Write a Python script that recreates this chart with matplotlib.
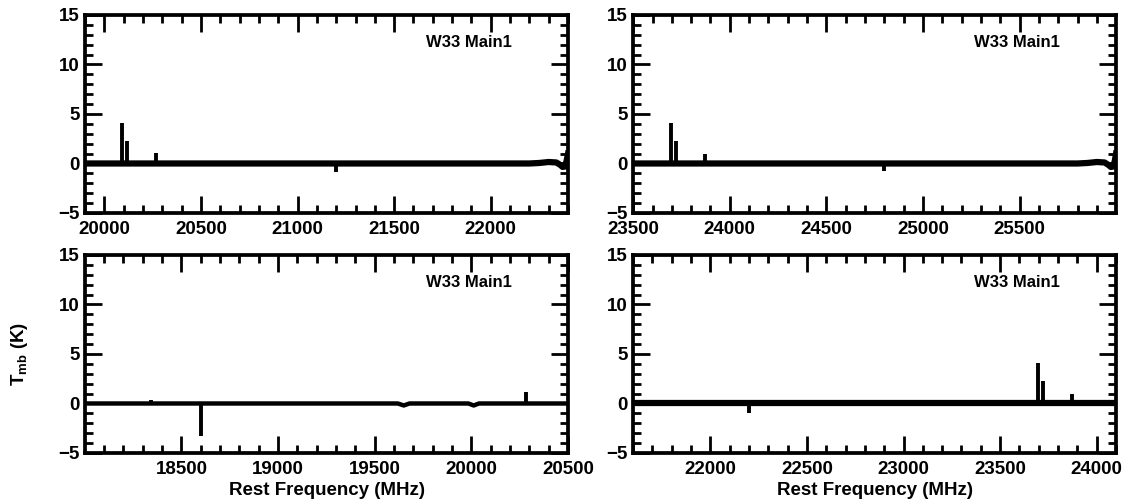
import numpy as np
import matplotlib
matplotlib.use("Agg")
import matplotlib.pyplot as plt
from matplotlib.ticker import MultipleLocator

# ==============================
# DATA
# ==============================
SOURCE = "W33 Main1"
YLIM = (-5, 15)

# top-left panel
TL_XLIM = (19900, 22400)
TL_BASE_F = [19900, 22200, 22250, 22300, 22340, 22360, 22372, 22385, 22393, 22400]
TL_BASE_T = [0.0, 0.0, 0.05, 0.15, 0.1, -0.15, -0.35, -0.3, 0.3, 1.0]
TL_LINE_F = [20092, 20119, 20266, 21200]
TL_LINE_T = [4.1, 2.3, 1.1, -0.9]

# top-right panel
TR_XLIM = (23499, 25999)
TR_BASE_F = [23499, 25800, 25850, 25900, 25940, 25960, 25972, 25985, 25993, 25999]
TR_BASE_T = [0.0, 0.0, 0.05, 0.15, 0.1, -0.15, -0.35, -0.3, 0.3, 1.0]
TR_LINE_F = [23694, 23722, 23870, 24800]
TR_LINE_T = [4.1, 2.3, 1.0, -0.8]

# bottom-left panel
BL_XLIM = (18001, 20501)
BL_BASE_F = [18001, 19620, 19651, 19680, 19985, 20013, 20040, 20501]
BL_BASE_T = [0.0, 0.0, -0.2, 0.0, 0.0, -0.2, 0.0, 0.0]
BL_LINE_F = [18200, 18345, 18600, 20281]
BL_LINE_T = [0.15, 0.35, -3.3, 1.2]

# bottom-right panel
BR_XLIM = (21600, 24100)
BR_BASE_F = [21600, 24100]
BR_BASE_T = [0.0, 0.0]
BR_LINE_F = [22200, 23694, 23722, 23870]
BR_LINE_T = [-1.0, 4.1, 2.3, 1.0]

# ==============================
# STYLE
# ==============================
plt.rcParams["font.family"] = ["Liberation Sans", "DejaVu Sans"]
plt.rcParams["font.weight"] = "bold"
plt.rcParams["mathtext.fontset"] = "custom"
plt.rcParams["mathtext.rm"] = "Liberation Sans:bold"
plt.rcParams["mathtext.it"] = "Liberation Sans:bold"
plt.rcParams["mathtext.bf"] = "Liberation Sans:bold"
FS = 13.5


def style_axes(ax, xlim):
    ax.set_xlim(*xlim)
    ax.set_ylim(*YLIM)
    ax.xaxis.set_major_locator(MultipleLocator(500))
    ax.xaxis.set_minor_locator(MultipleLocator(100))
    ax.yaxis.set_major_locator(MultipleLocator(5))
    ax.yaxis.set_minor_locator(MultipleLocator(1))
    ax.tick_params(which="both", direction="in", top=True, right=True,
                   labelsize=FS, width=2, color="black")
    ax.tick_params(which="major", length=12)
    ax.tick_params(which="minor", length=6)
    ax.tick_params(axis="x", pad=6)
    ax.tick_params(axis="y", pad=4)
    for lab in ax.get_xticklabels() + ax.get_yticklabels():
        lab.set_fontweight("bold")
    for sp in ax.spines.values():
        sp.set_linewidth(2.7)
    ax.text(0.705, 0.86, SOURCE, transform=ax.transAxes, fontsize=12,
            fontweight="bold", ha="left", va="center")


fig = plt.figure(figsize=(11.32, 5.04), dpi=100)

W = 0.4267
H = 0.3929
panels = [
    ([0.0751, 0.5774, W, H], TL_BASE_F, TL_BASE_T, TL_LINE_F, TL_LINE_T, TL_XLIM, 4.5),
    ([0.5592, 0.5774, W, H], TR_BASE_F, TR_BASE_T, TR_LINE_F, TR_LINE_T, TR_XLIM, 4.5),
    ([0.0751, 0.1012, W, H], BL_BASE_F, BL_BASE_T, BL_LINE_F, BL_LINE_T, BL_XLIM, 3.2),
    ([0.5592, 0.1012, W, H], BR_BASE_F, BR_BASE_T, BR_LINE_F, BR_LINE_T, BR_XLIM, 4.5),
]

axes = []
for rect, bf, bt, lf, lt, xlim, lw in panels:
    ax = fig.add_axes(rect)
    ax.plot(bf, bt, color="black", linewidth=lw)
    ax.vlines(lf, 0, lt, color="black", linewidth=2.8)
    style_axes(ax, xlim)
    axes.append(ax)

# labels only on the bottom row
for ax in axes[2:]:
    ax.set_xlabel("Rest Frequency (MHz)", fontsize=FS, fontweight="bold", labelpad=3)

axes[2].set_ylabel(r"T$_{\mathrm{mb}}$ (K)", fontsize=FS, fontweight="bold", labelpad=20)

fig.savefig("out.png", dpi=100)
